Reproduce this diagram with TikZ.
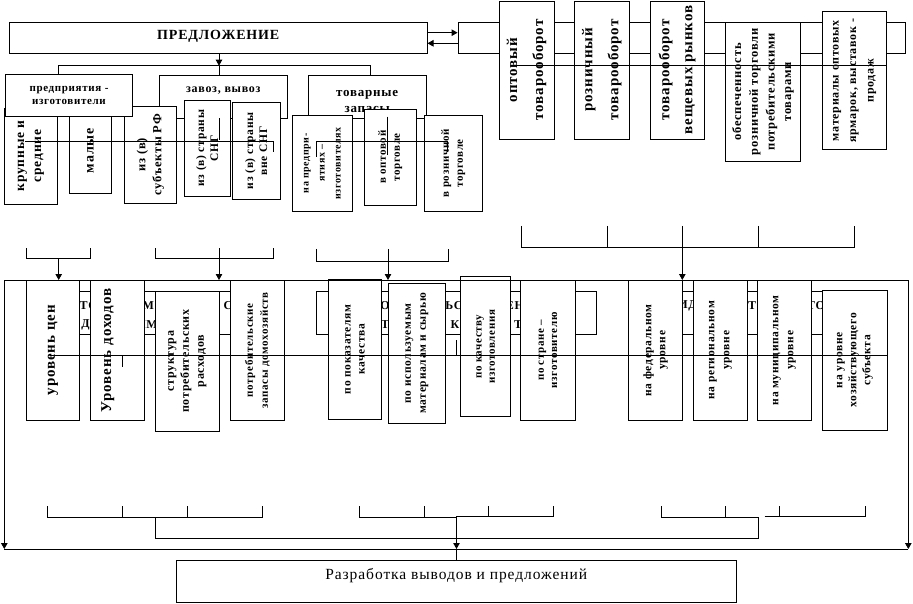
\documentclass[tikz,border=0pt]{standalone}
\usepackage{fontspec}
\setmainfont{Liberation Serif}[LetterSpace=6]
\usetikzlibrary{arrows.meta}
\newcommand\myfs[2]{\fontsize{#1}{#2}\selectfont\bfseries}
\begin{document}
\begin{tikzpicture}[x=1pt,y=-1pt,
  ln/.style={line width=0.9pt},
  vb/.style={draw, fill=white, line width=0.9pt, rotate=90, align=center, inner sep=0pt},
  hb/.style={draw, fill=white, line width=0.9pt, align=center, inner sep=0pt},
  arr/.style={line width=0.9pt, -{Triangle[width=6.5pt,length=6pt]}},
  frag/.style={inner sep=0pt, font=\myfs{12}{14}}]
\useasboundingbox (0,0) rectangle (913,604);

% ---------- top: supply block ----------
\node[hb, minimum width=417.7pt, minimum height=31.3pt, text height=10pt, text depth=6.6pt, font=\myfs{14}{16}] (pred) at (218.2,38.3) {ПРЕДЛОЖЕНИЕ};
\node[hb, minimum width=447pt, minimum height=31.3pt] (grp) at (681.5,38.3) {};

\node[vb, minimum width=138pt, minimum height=55pt, font=\myfs{15}{26}] (opt) at (526.5,70) {оптовый\\товарооборот};
\node[vb, minimum width=138pt, minimum height=55pt, font=\myfs{15}{26}] (rozn) at (601.8,70) {розничный\\товарооборот};
\node[vb, minimum width=138pt, minimum height=54pt, font=\myfs{15}{23}] (vesh) at (677,70) {товарооборот\\вещевых рынков};
\node[vb, minimum width=138.6pt, minimum height=74.6pt, font=\myfs{12.5}{16.7}] (obesp) at (763,92) {обеспеченность\\розничной торговли\\потребительскими\\товарами};
\node[vb, minimum width=138.3pt, minimum height=64.4pt, font=\myfs{12}{17.5}] (mater) at (854.5,80.8) {материалы оптовых\\ярмарок, выставок -\\продаж};

\draw[arr] ([yshift=5.6pt]pred.east) -- ([yshift=5.6pt]grp.west);
\draw[arr] ([yshift=-5pt]grp.west) -- ([yshift=-5pt]pred.east);

% group headers
\node[hb, minimum width=128pt, minimum height=43pt, text height=6pt, text depth=13.6pt, font=\myfs{12}{14}] (zavoz) at (223.3,96.8) {завоз, вывоз};
\node[hb, minimum width=117.7pt, minimum height=42.7pt,
  label={[name=tovzapt, align=center, inner sep=0pt, yshift=-4.5pt, font=\myfs{13}{16}]center:товарные\\запасы}] (tovzap) at (367.2,96.7) {};

% sub boxes row 1
\node[vb, minimum width=96pt, minimum height=53pt, font=\myfs{13.5}{17}] (krup) at (30.8,156) {крупные и\\средние};
\node[vb, minimum width=85.3pt, minimum height=42pt, font=\myfs{14}{17}] (maly) at (90.3,150.7) {малые};
\node[vb, minimum width=97pt, minimum height=52pt, font=\myfs{12.5}{16}] (subj) at (150.3,154.8) {из (в)\\субъекты РФ};
\node[vb, minimum width=96.3pt, minimum height=46pt, font=\myfs{11.5}{14}] (sng) at (207.3,148.2) {из (в) страны\\СНГ};
\node[vb, minimum width=97pt, minimum height=48pt, font=\myfs{11.5}{14}] (vnesng) at (256.3,150.8) {из (в) страны\\вне СНГ};
\node[vb, minimum width=96pt, minimum height=60pt, font=\myfs{10}{16}] (napred) at (322.3,163.3) {на предпри-\\ятиях –\\изготовителях};
\node[vb, minimum width=96pt, minimum height=52pt, font=\myfs{11}{14}] (vopt) at (390.3,157.3) {в оптовой\\торговле};
\node[vb, minimum width=96pt, minimum height=58pt, font=\myfs{11}{14}] (vrozn) at (453.3,163.3) {в розничной\\торговле};

\node[hb, minimum width=126.6pt, minimum height=42pt, font=\myfs{11}{13}] (predpr) at (69,95.3) {предприятия -\\изготовители};

% connectors from ПРЕДЛОЖЕНИЕ
\coordinate (j0) at (219,65.7);
\coordinate (ja) at (58.7,65.7);
\coordinate (jc) at (370.7,65.7);
\draw[arr] (pred.south -| j0) -- (j0);
\draw[ln] (ja |- predpr.north) -- (ja) -- (jc) -- (jc |- tovzap.north);
\draw[ln] (j0) -- (j0 |- zavoz.north);

% ---------- row 2 ----------
\node[hb, minimum width=244pt, minimum height=43pt, anchor=north west] (bg1) at (26,291) {};
\node[hb, minimum width=280pt, minimum height=43pt, anchor=north west] (bg2) at (316,291) {};
\node[hb, minimum width=230pt, minimum height=43pt, anchor=north west] (bg3) at (640,291) {};
\node[frag, anchor=west] (f1) at (79.5,305.5) {ТО};
\node[frag] (f2) at (85.5,325) {Д};
\node[frag] (f3) at (148.3,305.5) {М};
\node[frag] (f4) at (147,325) {ИМ};
\node[frag] (f5) at (228,305.5) {С};
\node[frag] (f6) at (385,305.5) {О};
\node[frag] (f7) at (385,325) {Т};
\node[frag] (f8) at (454,305.5) {ЬС};
\node[frag] (f9) at (455,325) {К};
\node[frag] (f10) at (515,305.5) {ЕН};
\node[frag] (f11) at (518,325) {Т};
\node[frag] (f12) at (687.5,305.5) {ИД};
\node[frag] (f13) at (752,305.5) {Т};
\node[frag] (f14) at (816,305.5) {ТО};

\node[vb, minimum width=140.7pt, minimum height=52.6pt, font=\myfs{15}{17}] (cen) at (53,350.3) {уровень цен};
\node[vb, minimum width=140.7pt, minimum height=54pt, font=\myfs{15}{22}] (doh) at (117.3,350.3) {Уровень доходов\\~};
\node[vb, minimum width=140.3pt, minimum height=64pt, font=\myfs{12}{15}] (strukt) at (187.3,361.2) {структура\\потребительских\\расходов};
\node[vb, minimum width=140.7pt, minimum height=54pt, font=\myfs{11}{15}] (zapdom) at (257.3,350.3) {потребительские\\запасы домохозяйств};
\node[vb, minimum width=140pt, minimum height=53.4pt, font=\myfs{11.5}{14}] (pokach) at (355,349.3) {по показателям\\качества};
\node[vb, minimum width=140pt, minimum height=57.4pt, font=\myfs{11.5}{15}] (ispmat) at (417,353.3) {по используемым\\материалам и сырью};
\node[vb, minimum width=140pt, minimum height=50pt, font=\myfs{11}{13.3}] (kachizg) at (485.7,346.7) {по качеству\\изготовления};
\node[vb, minimum width=140.7pt, minimum height=54.6pt, font=\myfs{11}{13.3}] (strizg) at (548,350.3) {по стране –\\изготовителю};
\node[vb, minimum width=140.7pt, minimum height=53.6pt, font=\myfs{11.5}{14}] (fed) at (655.5,350.3) {на федеральном\\уровне};
\node[vb, minimum width=140.7pt, minimum height=54pt, font=\myfs{11.5}{15}] (reg) at (720.3,350.3) {на региональном\\уровне};
\node[vb, minimum width=140.7pt, minimum height=54pt, font=\myfs{11.5}{15}] (mun) at (784.3,350.3) {на муниципальном\\уровне};
\node[vb, minimum width=139.7pt, minimum height=65pt, font=\myfs{11.5}{14}] (hoz) at (854.8,360.2) {на уровне\\хозяйствующего\\субъекта};

% ---------- bottom box ----------
\node[hb, minimum width=560.3pt, minimum height=41.6pt, text height=10pt, text depth=15pt, font=\fontsize{15.5}{18}\selectfont] (razr) at (456.2,581.5) {Разработка выводов и предложений};

% ---------- frame ----------
\coordinate (ftl) at (4.3,280);
\coordinate (ftr) at (908.3,280);
\coordinate (fl) at (4.3,549);
\coordinate (fr) at (908.3,549);
\coordinate (fc) at (456.5,549);
\draw[ln] (ftl) -- (ftr);
\draw[arr] (ftl) -- (fl);
\draw[arr] (ftr) -- (fr);
\draw[ln] (fl) -- (fr);
\draw[ln] (fc) -- (fc |- razr.north);

% ---------- brackets between rows ----------
\coordinate (a1) at (58.7,280);
\coordinate (a2) at (219,280);
\coordinate (a3) at (388,280);
\coordinate (a4) at (682.3,280);
\draw[ln] (26.7,248.3) -- (26.7,258.3) -- (90,258.3) -- (90,248.3);
\draw[arr] (58.7,258.3) -- (a1);
\draw[ln] (155,248.3) -- (155,258.3) -- (273.3,258.3) -- (273.3,248.3);
\draw[arr] (219,248.3) -- (a2);
\draw[ln] (316,249) -- (316,261) -- (448.3,261) -- (448.3,249);
\draw[arr] (388,249) -- (a3);
\draw[ln] (521.7,226) -- (521.7,247.7) -- (854.3,247.7) -- (854.3,226);
\draw[ln] (607.3,226) -- (607.3,247.7);
\draw[ln] (758.3,226) -- (758.3,247.7);
\draw[arr] (682.3,226) -- (a4);

% ---------- bottom brackets ----------
\draw[ln] (47.3,506) -- (47.3,517.3) -- (262.3,517.3) -- (262.3,506);
\draw[ln] (122.3,506) -- (122.3,517.3);
\draw[ln] (187.3,506) -- (187.3,517.3);
\draw[ln] (359.3,506) -- (359.3,517.3) -- (456.5,517.3);
\draw[ln] (456.5,516) -- (553,516) -- (553,506);
\draw[ln] (424.3,506) -- (424.3,517.3);
\draw[ln] (488,506) -- (488,516);
\draw[ln] (661.3,506) -- (661.3,517.3) -- (758,517.3);
\draw[ln] (764.7,516) -- (865.7,516) -- (865.7,506);
\draw[ln] (725.7,506) -- (725.7,517.3);
\draw[ln] (779.7,506) -- (779.7,516);
\draw[ln] (155.3,517.3) -- (155.3,538.3) -- (758,538.3) -- (758,517.3);
\draw[arr] (456.5,516) -- (fc);

% ---------- stray lines across the boxes ----------
\draw[ln] (25,141) -- (273.3,141) -- (273.3,151.7);
\draw[ln] (219.3,118.3) -- (219.3,140);
\draw[ln] (316,156.7) -- (316,141) -- (447.7,141) -- (447.7,151.7);
\draw[ln] (387.7,116.7) -- (387.7,155);
\draw[ln] (516.7,65.7) -- (886.7,65.7);
\draw[ln] (50,355.3) -- (886.7,355.3);
\draw[ln] (122.7,355.3) -- (122.7,366.7);
\draw[ln] (456.7,340) -- (456.7,355.3);
\draw[ln] (757.7,334) -- (757.7,355.3);
\end{tikzpicture}
\end{document}
